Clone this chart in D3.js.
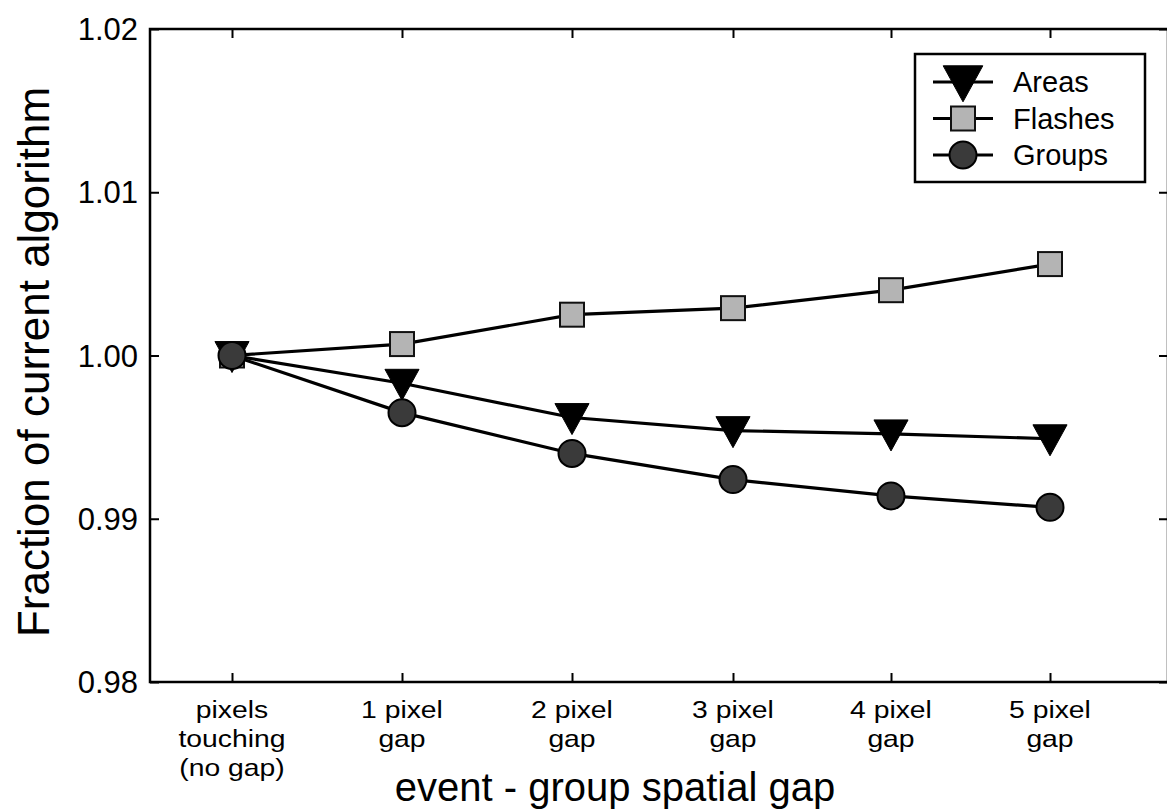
<!DOCTYPE html>
<html><head><meta charset="utf-8">
<script src="https://d3js.org/d3.v7.min.js"></script>
<style>body{margin:0;background:#fff;} svg{display:block;} text{font-family:"Liberation Sans",Arial,Helvetica,sans-serif;fill:#000;}</style>
</head><body><svg id="c" width="1167" height="811"></svg>
<script>
const categories = ["pixels\ntouching\n(no gap)", "1 pixel\ngap", "2 pixel\ngap", "3 pixel\ngap", "4 pixel\ngap", "5 pixel\ngap"];
const areas   = [1.0000, 0.9983, 0.9962, 0.9954, 0.9952, 0.9949];
const flashes = [1.0000, 1.0007, 1.0025, 1.0029, 1.0040, 1.0056];
const groups  = [1.0000, 0.9965, 0.9940, 0.9924, 0.9914, 0.9907];
const yTicks = [0.98, 0.99, 1.00, 1.01, 1.02];
const yTickLabels = ["0.98", "0.99", "1.00", "1.01", "1.02"];
const seriesNames = ["Areas", "Flashes", "Groups"];

const svg = d3.select("#c");
const L = 150, R = 1168, T = 29, B = 682;
// piecewise scale follows the slightly uneven spacing of the original print
const x = d3.scaleLinear().domain([-0.5, 0, 1, 2, 3, 4, 5, 5.72]).range([L, 232, 402, 572, 733, 891, 1050, R]);
const y = d3.scaleLinear().domain([0.98, 1.02]).range([B, T]);

svg.append("rect").attr("x", L).attr("y", T).attr("width", R - L).attr("height", B - T)
  .attr("fill", "none").attr("stroke", "#000").attr("stroke-width", 2.5);

const idx = d3.range(categories.length);
const gx = svg.append("g").attr("transform", `translate(0,${B})`).call(d3.axisBottom(x).tickValues(idx).tickSize(-9).tickFormat(""));
const gxt = svg.append("g").attr("transform", `translate(0,${T})`).call(d3.axisTop(x).tickValues(idx).tickSize(-9).tickFormat(""));
const gy = svg.append("g").attr("transform", `translate(${L},0)`).call(d3.axisLeft(y).tickValues(yTicks).tickSize(-9).tickFormat(""));
const gyr = svg.append("g").attr("transform", `translate(${R},0)`).call(d3.axisRight(y).tickValues(yTicks).tickSize(-9).tickFormat(""));
[gx, gxt, gy, gyr].forEach(g => { g.select(".domain").remove(); g.selectAll("line").attr("stroke", "#000").attr("stroke-width", 2); });

svg.selectAll(".ytl").data(yTicks).join("text").attr("class", "ytl")
  .attr("x", 138).attr("y", d => y(d) + 11).attr("text-anchor", "end")
  .style("font-size", "31px").text((d, i) => yTickLabels[i]);

const xtl = svg.selectAll(".xtl").data(categories).join("text").attr("class", "xtl")
  .attr("text-anchor", "middle").style("font-size", "24px")
  .attr("transform", (d, i) => `translate(${x(i)},718) scale(1.18,1)`);
xtl.each(function(d) {
  const lines = d.split("\n");
  d3.select(this).selectAll("tspan").data(lines).join("tspan")
    .attr("x", 0).attr("y", (l, j) => j * 29).text(l => l);
});

svg.append("text").attr("text-anchor", "middle")
  .attr("transform", `translate(615,801)`).style("font-size", "40px").text("event - group spatial gap");
svg.append("text").attr("text-anchor", "middle")
  .attr("transform", `translate(49,362) rotate(-90)`).style("font-size", "44px").text("Fraction of current algorithm");

const line = d3.line().x((d, i) => x(i)).y(d => y(d));
const data = [areas, flashes, groups];
svg.selectAll(".ln").data(data).join("path").attr("class", "ln")
  .attr("d", line).attr("fill", "none").attr("stroke", "#000").attr("stroke-width", 3.2);

const triPath = s => `M${-s * 0.55},${-s * 0.45}L${s * 0.55},${-s * 0.45}L0,${s * 0.55}Z`;
function drawMarker(g, type, s) {
  if (type === 0) g.append("path").attr("d", triPath(s || 31)).attr("fill", "#000").attr("stroke", "#000").attr("stroke-width", 1);
  else if (type === 1) g.append("rect").attr("x", -12).attr("y", -12).attr("width", 24).attr("height", 24)
    .attr("fill", "#b4b4b4").attr("stroke", "#111").attr("stroke-width", 2);
  else g.append("circle").attr("r", 13.5).attr("fill", "#3a3a3a").attr("stroke", "#000").attr("stroke-width", 2);
}
[1, 0, 2].forEach(s => {
  data[s].forEach((v, i) => {
    const g = svg.append("g").attr("transform", `translate(${x(i)},${y(v)})`);
    drawMarker(g, s);
  });
});

const lg = svg.append("g");
lg.append("rect").attr("x", 915).attr("y", 54).attr("width", 230).attr("height", 128)
  .attr("fill", "#fff").attr("stroke", "#000").attr("stroke-width", 2.5);
seriesNames.forEach((n, i) => {
  const cy = 82 + i * 36.5;
  lg.append("line").attr("x1", 933).attr("x2", 993).attr("y1", cy).attr("y2", cy).attr("stroke", "#000").attr("stroke-width", 3);
  const g = lg.append("g").attr("transform", `translate(963,${cy})`);
  drawMarker(g, i, 36);
  lg.append("text").attr("x", 1013).attr("y", cy + 10).style("font-size", "29px").text(n);
});
</script></body></html>
